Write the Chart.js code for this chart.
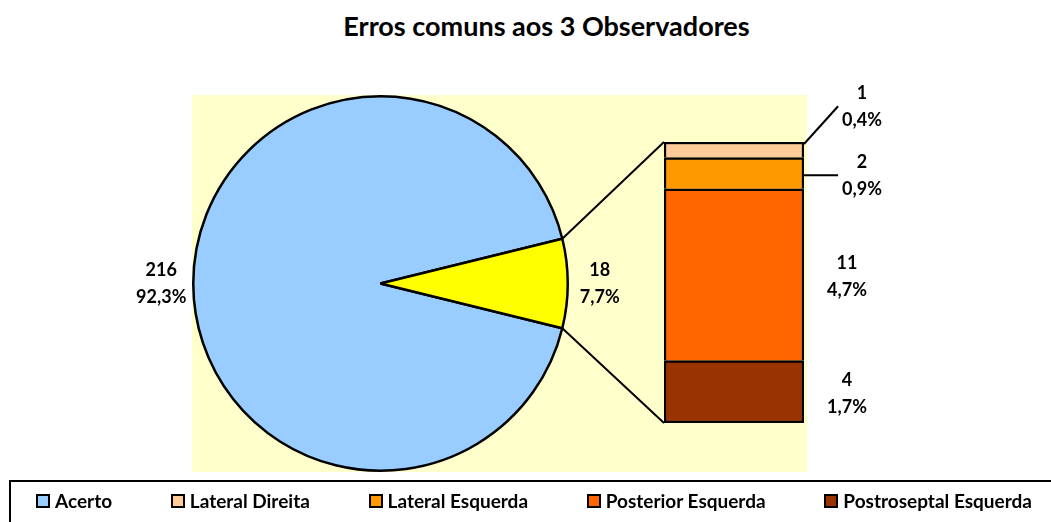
<!DOCTYPE html>
<html>
<head>
<meta charset="utf-8">
<title>Erros comuns aos 3 Observadores</title>
<script src="https://cdn.jsdelivr.net/npm/chart.js@4.4.0/dist/chart.umd.min.js"></script>
<style>
  html, body { margin: 0; padding: 0; background: #fff; }
  #wrap { position: relative; width: 1051px; height: 522px; overflow: hidden; font-family: Lato, sans-serif; }
  #wrap canvas { position: absolute; left: 0; top: 0; }
  #title { position: absolute; left: 0; top: 10px; width: 1093px; text-align: center; font-weight: bold; font-size: 27px; line-height: 1.2; color: #000; }
  #legendBox { position: absolute; left: 9px; top: 480px; width: 1100px; height: 100px; border: 2px solid #000; box-sizing: border-box; }
  #legendItems { position: absolute; left: 36px; top: 490px; width: 996px; display: flex; justify-content: space-between; }
  .item { display: flex; align-items: center; font-weight: bold; font-size: 19px; line-height: 1.2; color: #000; white-space: nowrap; }
  .swatch { width: 10px; height: 10px; border: 2px solid #000; margin-right: 5px; }
</style>
</head>
<body>
<div id="wrap">
  <div id="title"></div>
  <canvas id="pieChart" width="1051" height="522"></canvas>
  <canvas id="barChart" width="1051" height="522"></canvas>
  <div id="legendBox"></div>
  <div id="legendItems"></div>
</div>
<script>
// Data
const chartTitle = 'Erros comuns aos 3 Observadores';
const pieLabels = ['Acerto', 'Erros'];
const pieValues = [216, 18];
const pieColors = ['#99CCFF', '#FFFF00'];
const barLabels = ['Lateral Direita', 'Lateral Esquerda', 'Posterior Esquerda', 'Postroseptal Esquerda'];
const barValues = [1, 2, 11, 4];
const barColors = ['#FFCC99', '#FF9900', '#FF6600', '#993300'];

const total = pieValues.reduce((a, b) => a + b, 0);
const barTotal = barValues.reduce((a, b) => a + b, 0);
const labelFont = 'bold 18px Lato';
const lineGap = 13.5;

function pct(v) {
  return (v / total * 100).toFixed(1).replace('.', ',') + '%';
}

document.getElementById('title').textContent = chartTitle;

// Legend (pie categories first, then the bar breakdown)
const legendEl = document.getElementById('legendItems');
[pieLabels[0]].concat(barLabels).forEach((label, i) => {
  const color = i === 0 ? pieColors[0] : barColors[i - 1];
  const item = document.createElement('div');
  item.className = 'item';
  const sw = document.createElement('span');
  sw.className = 'swatch';
  sw.style.background = color;
  item.appendChild(sw);
  item.appendChild(document.createTextNode(label));
  legendEl.appendChild(item);
});

// Labels beside the stacked bar, pushed up when they would overlap
const barLabelPlugin = {
  id: 'barLabels',
  afterDatasetsDraw(chart) {
    const ctx = chart.ctx;
    ctx.save();
    ctx.font = labelFont;
    ctx.fillStyle = '#000';
    ctx.strokeStyle = '#000';
    ctx.lineWidth = 2;
    ctx.textAlign = 'center';
    ctx.textBaseline = 'middle';
    let prevY = Infinity;
    chart.data.datasets.forEach((ds, di) => {
      const bar = chart.getDatasetMeta(di).data[0];
      const top = bar.y, bottom = bar.base, right = bar.x + bar.width / 2;
      const small = bottom - top < 40;
      const y = Math.min((top + bottom) / 2 + 2, prevY - 69);
      prevY = y;
      const x = small ? right + 58 : right + 43;
      const lines = [String(ds.data[0]), pct(ds.data[0])];
      ctx.fillText(lines[0], x, y - lineGap);
      ctx.fillText(lines[1], x, y + lineGap);
      if (small) {
        const half = Math.max(...lines.map(t => ctx.measureText(t).width)) / 2;
        const sy = Math.max(top + 2, Math.min(y, bottom));
        ctx.beginPath();
        ctx.moveTo(right, sy);
        ctx.lineTo(x - half - 4, y);
        ctx.stroke();
      }
    });
    ctx.restore();
  }
};

const barChart = new Chart(document.getElementById('barChart'), {
  type: 'bar',
  data: {
    labels: ['Erros'],
    datasets: barLabels.map((label, i) => ({
      label: label,
      data: [barValues[i]],
      backgroundColor: barColors[i],
      borderColor: '#000',
      borderWidth: 2.5,
      borderSkipped: i === barLabels.length - 1 ? false : 'start',
      barPercentage: 1,
      categoryPercentage: 1
    })).reverse()
  },
  options: {
    responsive: false,
    animation: false,
    events: [],
    layout: { padding: { left: 664, right: 1051 - 804, top: 142, bottom: 522 - 423 } },
    scales: {
      x: { display: false, stacked: true },
      y: { display: false, stacked: true, min: 0, max: barTotal }
    },
    plugins: {
      legend: { display: false },
      tooltip: { enabled: false }
    }
  },
  plugins: [barLabelPlugin]
});

// Light yellow plot area behind pie and bar
const plotBgPlugin = {
  id: 'plotBg',
  beforeDraw(chart) {
    const a = chart.chartArea;
    const right = barChart.chartArea.right + 3;
    const ctx = chart.ctx;
    ctx.save();
    ctx.fillStyle = '#FFFFCC';
    ctx.fillRect(a.left, a.top, right - a.left, a.bottom - a.top);
    ctx.restore();
  }
};

// Value labels outside the pie + lines joining the small slice to the bar
const pieExtrasPlugin = {
  id: 'pieExtras',
  afterDatasetsDraw(chart) {
    const ctx = chart.ctx;
    const arcs = chart.getDatasetMeta(0).data;
    ctx.save();
    ctx.font = labelFont;
    ctx.fillStyle = '#000';
    ctx.textAlign = 'center';
    ctx.textBaseline = 'middle';
    arcs.forEach((arc, i) => {
      const p = arc.getProps(['x', 'y', 'startAngle', 'endAngle', 'outerRadius'], true);
      const a = (p.startAngle + p.endAngle) / 2;
      const r = p.outerRadius + 32;
      const lx = p.x + Math.cos(a) * r;
      const ly = p.y + Math.sin(a) * r;
      ctx.fillText(String(pieValues[i]), lx, ly - lineGap);
      ctx.fillText(pct(pieValues[i]), lx, ly + lineGap);
    });

    const s = arcs[1].getProps(['x', 'y', 'startAngle', 'endAngle', 'outerRadius'], true);
    const bottomBar = barChart.getDatasetMeta(0).data[0];
    const topBar = barChart.getDatasetMeta(barChart.data.datasets.length - 1).data[0];
    const left = bottomBar.x - bottomBar.width / 2;
    ctx.strokeStyle = '#000';
    ctx.lineWidth = 2;
    ctx.beginPath();
    ctx.moveTo(s.x + Math.cos(s.startAngle) * s.outerRadius, s.y + Math.sin(s.startAngle) * s.outerRadius);
    ctx.lineTo(left, topBar.y);
    ctx.moveTo(s.x + Math.cos(s.endAngle) * s.outerRadius, s.y + Math.sin(s.endAngle) * s.outerRadius);
    ctx.lineTo(left, bottomBar.base);
    ctx.stroke();
    ctx.restore();
  }
};

new Chart(document.getElementById('pieChart'), {
  type: 'pie',
  data: {
    labels: pieLabels,
    datasets: [{
      data: pieValues,
      backgroundColor: pieColors,
      borderColor: '#000',
      borderWidth: 2.5
    }]
  },
  options: {
    responsive: false,
    animation: false,
    events: [],
    // put the small slice centred on the right, facing the bar
    rotation: 90 + (pieValues[1] / total) * 180,
    layout: { padding: { left: 192, right: 1051 - 569, top: 95, bottom: 522 - 472 } },
    plugins: {
      legend: { display: false },
      tooltip: { enabled: false }
    }
  },
  plugins: [plotBgPlugin, pieExtrasPlugin]
});
</script>
</body>
</html>
